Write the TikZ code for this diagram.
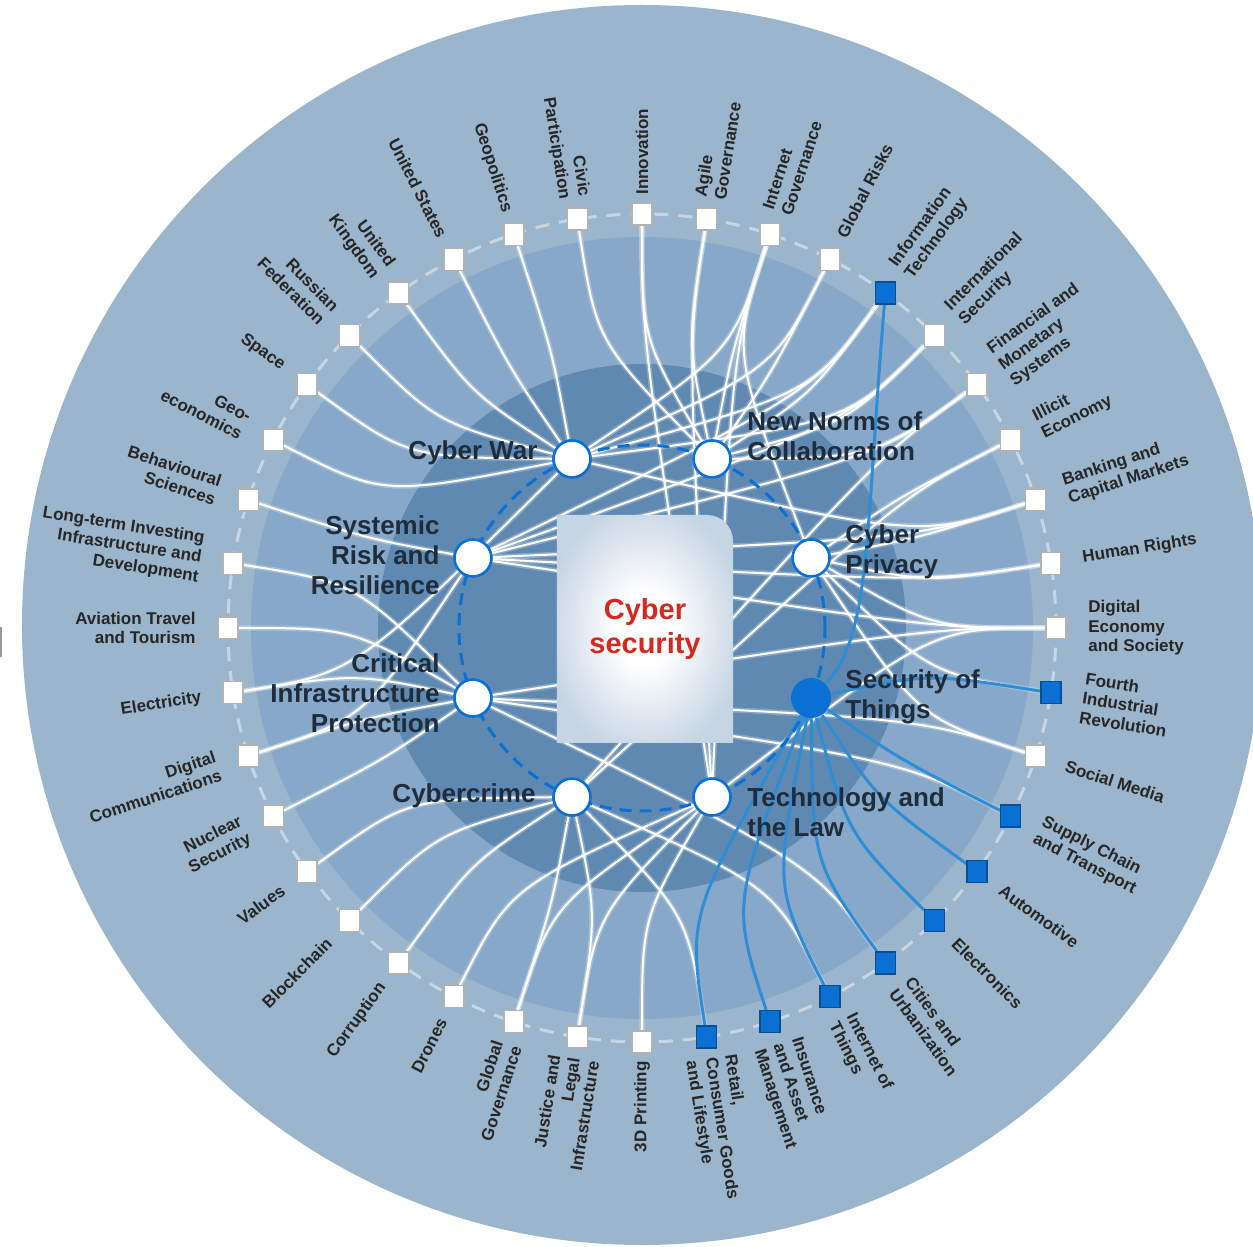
\documentclass[tikz,border=0pt]{standalone}
\usepackage{fontspec}
\setmainfont{Liberation Sans}
\usetikzlibrary{calc}
\pgfdeclarelayer{bg}
\pgfdeclarelayer{links}
\pgfsetlayers{bg,links,main}

\definecolor{outerbg}{RGB}{155,181,204}
\definecolor{midbg}{RGB}{135,168,201}
\definecolor{darkbg}{RGB}{96,137,178}
\definecolor{keyblue}{RGB}{10,112,212}
\definecolor{linkblue}{RGB}{45,142,214}
\definecolor{textnavy}{RGB}{30,44,60}
\definecolor{titlered}{RGB}{213,40,30}
\definecolor{boxedge}{RGB}{198,213,228}

\pgfdeclareradialshading{boxglow}{\pgfpoint{0bp}{0bp}}{color(0bp)=(white); color(8bp)=(white); color(28bp)=(boxedge); color(50bp)=(boxedge)}

\tikzset{
  keynode/.style={circle, fill=white, draw=keyblue, line width=1.3pt, minimum size=18.5pt, inner sep=0pt},
  keyfill/.style={circle, fill=keyblue, minimum size=20pt, inner sep=0pt},
  keytext/.style={font=\fontsize{13}{15}\selectfont\bfseries, text=textnavy, inner sep=0pt},
  topic/.style={font=\fontsize{8.5}{9.8}\selectfont\bfseries, text=black!85, inner sep=0pt},
  wsq/.style={rectangle, fill=white, draw=black!30, line width=.6pt, minimum width=10pt, minimum height=11pt, inner sep=0pt},
  bsq/.style={rectangle, fill=keyblue, draw=keyblue!70!black, line width=.6pt, minimum width=10pt, minimum height=11pt, inner sep=0pt},
  link/.style={white, line width=1pt, preaction={draw=white, opacity=.25, line width=2.6pt}},
  bluelink/.style={linkblue, line width=1.5pt},
}

\begin{document}
\begin{tikzpicture}
  \useasboundingbox (-321pt,-309.5pt) rectangle (305.5pt,314pt);
  \begin{pgfonlayer}{bg}
    \fill[outerbg] (0,1.5pt) circle[radius=310pt];
    \fill[midbg] (0,0) circle[radius=195.5pt];
    \fill[darkbg] (0,0) circle[radius=132pt];
    \draw[white, opacity=.45, line width=1.5pt, dash pattern=on 7pt off 5pt] (0,0) circle[radius=207pt];
    \fill[black!40] (-321pt,0.5pt) rectangle (-320pt,-14.5pt);
  \end{pgfonlayer}

  % inner ring and centre
  \draw[keyblue, line width=1.5pt, dash pattern=on 6pt off 4pt] (0,0) circle[radius=91.5pt];
  \shade[shading=boxglow] (-42.5pt,-57.5pt) -- (-42.5pt,56.5pt) -- (32.5pt,56.5pt)
    arc[start angle=90, end angle=0, radius=13pt] -- (45.5pt,-57.5pt) -- cycle;
  \node[font=\fontsize{14.5}{17}\selectfont\bfseries, text=titlered, align=center] (core) at (1.5pt,-0.5pt) {Cyber\\security};

  % key issues
  \node[keynode] (cw) at (112.5:91.5pt) {};
  \node[keynode] (nn) at (67.5:91.5pt) {};
  \node[keynode] (cp) at (22.5:91.5pt) {};
  \node[keyfill] (st) at (-22.5:91.5pt) {};
  \node[keynode] (tl) at (-67.5:91.5pt) {};
  \node[keynode] (cc) at (-112.5:91.5pt) {};
  \node[keynode] (ci) at (-157.5:91.5pt) {};
  \node[keynode] (sr) at (157.5:91.5pt) {};

  % topics on the outer ring
  \foreach \j in {0,1,2,3,5,6,7,8,9,10,12,20,21,...,39}
    \node[wsq] (s\j) at ({90-9*\j}:207pt) {};
  \foreach \j in {4,11,13,14,...,19}
    \node[bsq] (s\j) at ({90-9*\j}:207pt) {};

  \begin{pgfonlayer}{links}
    \foreach \n/\j in {cw/33,cw/34,cw/35,cw/36,cw/37,cw/38,cw/29,cw/3,cw/2,cw/4,cw/5,cw/8,
                       nn/39,nn/0,nn/1,nn/2,nn/3,nn/4,nn/5,nn/6,
                       cp/2,cp/7,cp/8,cp/9,cp/10,cp/11,cp/12,
                       tl/0,tl/1,tl/2,tl/20,tl/21,tl/22,tl/23,tl/10,
                       cc/6,cc/7,cc/19,cc/21,cc/22,cc/24,cc/25,cc/26,cc/17,
                       ci/27,ci/28,ci/29,ci/30,ci/31,ci/10,ci/12,ci/13,ci/16,
                       sr/32,sr/28,sr/4,sr/5,sr/6,sr/9,sr/8,sr/10}
      \draw[link] (s\j) .. controls ({90-9*\j}:145pt) .. (\n);
    \draw[bluelink] (st) .. controls +(30pt,30pt) and +(-10pt,-120pt) .. (s4);
    \foreach \j in {11,13,14,...,19}
      \draw[bluelink] (st) .. controls ({90-9*\j}:145pt) .. (s\j);
  \end{pgfonlayer}

  \foreach \txt [count=\i from 0] in {Innovation, Agile\\Governance, Internet\\Governance, Global Risks,
      Information\\Technology, International\\Security, Financial and\\Monetary\\Systems, Illicit\\Economy,
      Banking and\\Capital Markets, Human Rights, Digital\\Economy\\and Society, Fourth\\Industrial\\Revolution,
      Social Media, Supply Chain\\and Transport, Automotive, Electronics, Cities and\\Urbanization,
      Internet of\\Things, Insurance\\and Asset\\Management, {Retail,\\Consumer Goods\\and Lifestyle},
      3D Printing, Justice and\\Legal\\Infrastructure, Global\\Governance, Drones, Corruption, Blockchain,
      Values, Nuclear\\Security, Digital\\Communications, Electricity, Aviation Travel\\and Tourism,
      Long-term Investing\\Infrastructure and\\Development, Behavioural\\Sciences, Geo-\\economics, Space,
      Russian\\Federation, United\\Kingdom, United States, Geopolitics, Civic\\Participation}{
    \pgfmathsetmacro\a{90-9*\i}
    \pgfmathsetmacro\r{216.5+6.5*abs(cos(\a))}
    \ifnum\i<20
      \node[topic, anchor=west, align=left, rotate=\a] (t\i) at (\a:\r pt) {\txt};
    \else
      \node[topic, anchor=east, align=right, rotate=\a+180] (t\i) at (\a:\r pt) {\txt};
    \fi
  }

  \node[keytext, anchor=east] (cwt) at ($(cw)+(-17pt,3pt)$) {Cyber War};
  \node[keytext, anchor=west, align=left] (nnt) at ($(nn)+(17.5pt,11.5pt)$) {New Norms of\\Collaboration};
  \node[keytext, anchor=west, align=left] (cpt) at ($(cp)+(17pt,3pt)$) {Cyber\\Privacy};
  \node[keytext, anchor=west, align=left] (stt) at ($(st)+(17pt,0.5pt)$) {Security of\\Things};
  \node[keytext, anchor=west, align=left] (tlt) at ($(tl)+(17.5pt,-7.5pt)$) {Technology and\\the Law};
  \node[keytext, anchor=east] (cct) at ($(cc)+(-18pt,0.5pt)$) {Cybercrime};
  \node[keytext, anchor=east, align=right] (cit) at ($(ci)+(-16.5pt,2.5pt)$) {Critical\\Infrastructure\\Protection};
  \node[keytext, anchor=east, align=right] (srt) at ($(sr)+(-16.5pt,1.5pt)$) {Systemic\\Risk and\\Resilience};
\end{tikzpicture}
\end{document}
